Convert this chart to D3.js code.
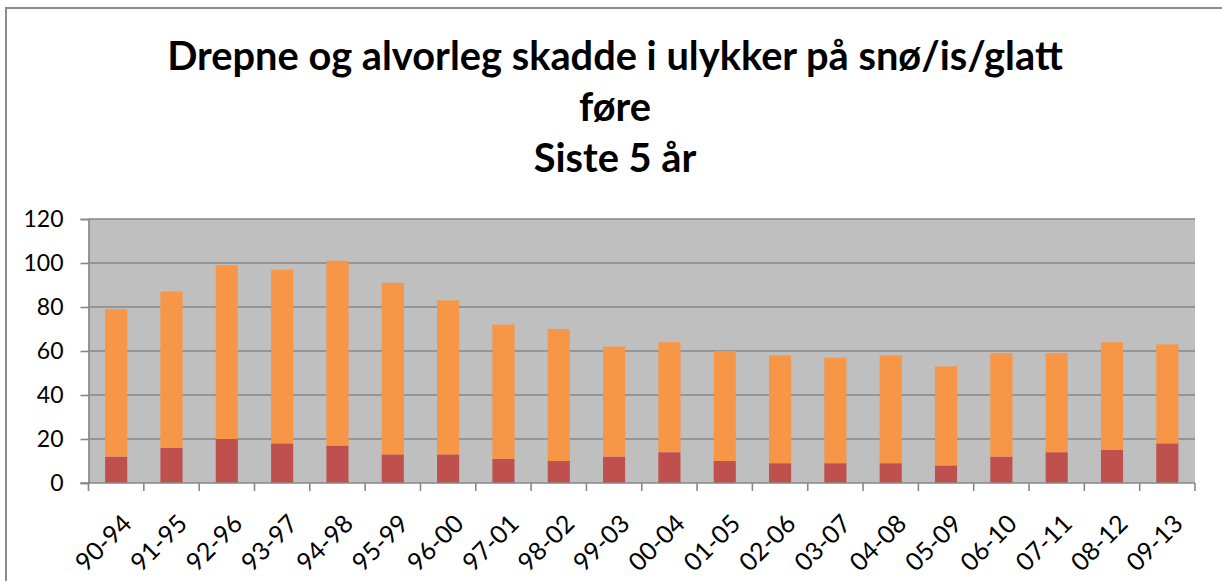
<!DOCTYPE html>
<html>
<head>
<meta charset="utf-8">
<script src="https://cdn.jsdelivr.net/npm/d3@7"></script>
<style>
  html, body { margin: 0; padding: 0; background: #fff; }
  svg { display: block; }
</style>
</head>
<body>
<div id="chart"></div>
<script>
// ─── Data ───
const periods = ["90-94", "91-95", "92-96", "93-97", "94-98", "95-99", "96-00", "97-01", "98-02", "99-03",
  "00-04", "01-05", "02-06", "03-07", "04-08", "05-09", "06-10", "07-11", "08-12", "09-13"];
const drepne = [12, 16, 20, 18, 17, 13, 13, 11, 10, 12, 14, 10, 9, 9, 9, 8, 12, 14, 15, 18];
const alvorlegSkadde = [67, 71, 79, 79, 84, 78, 70, 61, 60, 50, 50, 50, 49, 48, 49, 45, 47, 45, 49, 45];
const yTicks = [0, 20, 40, 60, 80, 100, 120];
const titleLines = ["Drepne og alvorleg skadde i ulykker på snø/is/glatt", "føre", "Siste 5 år"];

const seriesKeys = ["drepne", "alvorlegSkadde"];
const seriesColors = { drepne: "#C0504D", alvorlegSkadde: "#F79646" };

const rows = periods.map((p, i) => ({ period: p, drepne: drepne[i], alvorlegSkadde: alvorlegSkadde[i] }));

// ─── Layout ───
const W = 1222, H = 581;
const plot = { left: 88.5, right: 1195, top: 219, bottom: 483 };
const FONT = "Lato, 'Open Sans', 'Liberation Sans', sans-serif";
const GRID = "#878787";

const svg = d3.select("#chart").append("svg")
  .attr("width", W)
  .attr("height", H)
  .attr("viewBox", `0 0 ${W} ${H}`);

// outer chart frame (runs off the right/bottom of the picture)
svg.append("rect")
  .attr("x", 6).attr("y", 8)
  .attr("width", W + 20).attr("height", H + 20)
  .attr("fill", "#fff")
  .attr("stroke", "#8c8c8c")
  .attr("stroke-width", 2);

// ─── Title ───
const titleG = svg.append("g")
  .attr("font-family", FONT)
  .attr("font-weight", "bold")
  .attr("fill", "#000")
  .attr("text-anchor", "middle");

const baselines = [70, 121, 172];
const titleText = titleG.selectAll("text")
  .data(titleLines)
  .join("text")
  .attr("x", 615)
  .attr("y", (d, i) => baselines[i])
  .attr("font-size", 100)
  .text((d) => d);

// fit first line to its width in the reference
const measured = titleText.node().getComputedTextLength();
titleText.attr("font-size", Math.min(40, (100 * 896) / measured));

// ─── Scales ───
const x = d3.scaleBand()
  .domain(periods)
  .range([plot.left, plot.right])
  .padding(0);

const y = d3.scaleLinear()
  .domain([0, 120])
  .range([plot.bottom, plot.top]);

const barW = x.bandwidth() * 0.4;

// plot background
svg.append("rect")
  .attr("x", plot.left)
  .attr("y", y(120))
  .attr("width", plot.right - plot.left)
  .attr("height", y(0) - y(120))
  .attr("fill", "#BFBFBF");

// gridlines
svg.append("g")
  .selectAll("line")
  .data(yTicks.filter((t) => t > 0))
  .join("line")
  .attr("x1", plot.left)
  .attr("x2", plot.right)
  .attr("y1", (d) => y(d))
  .attr("y2", (d) => y(d))
  .attr("stroke", GRID)
  .attr("stroke-width", 1.6);

// ─── Stacked bars ───
const stack = d3.stack().keys(seriesKeys)(rows);

svg.append("g")
  .selectAll("g")
  .data(stack)
  .join("g")
  .attr("fill", (s) => seriesColors[s.key])
  .selectAll("rect")
  .data((s) => s)
  .join("rect")
  .attr("x", (d) => x(d.data.period) + (x.bandwidth() - barW) / 2)
  .attr("y", (d) => y(d[1]))
  .attr("width", barW)
  .attr("height", (d) => y(d[0]) - y(d[1]));

// ─── Y axis ───
const gY = svg.append("g")
  .attr("transform", `translate(${plot.left},0)`)
  .call(d3.axisLeft(y).tickValues(yTicks).tickSize(8).tickPadding(17).tickFormat(d3.format("d")));

gY.select(".domain").attr("stroke", GRID).attr("stroke-width", 1.6);
gY.selectAll(".tick line").attr("stroke", GRID).attr("stroke-width", 1.6);
gY.selectAll("text")
  .style("font-family", FONT)
  .style("font-size", "23px")
  .style("fill", "#000");

// ─── X axis ───
const gX = svg.append("g")
  .attr("transform", `translate(0,${plot.bottom})`);

gX.append("line")
  .attr("x1", plot.left - 8)
  .attr("x2", plot.right)
  .attr("stroke", GRID)
  .attr("stroke-width", 1.6);

// ticks sit on the category boundaries
const boundaries = periods.map((p) => x(p)).concat([x(periods[periods.length - 1]) + x.bandwidth()]);
gX.selectAll(".xtick")
  .data(boundaries)
  .join("line")
  .attr("class", "xtick")
  .attr("x1", (d) => d)
  .attr("x2", (d) => d)
  .attr("y1", 0)
  .attr("y2", 8)
  .attr("stroke", GRID)
  .attr("stroke-width", 1.6);

gX.selectAll(".xlabel")
  .data(periods)
  .join("text")
  .attr("class", "xlabel")
  .attr("transform", (d) => `translate(${x(d) + x.bandwidth() / 2 + 11},36) rotate(-45)`)
  .attr("text-anchor", "end")
  .attr("dy", "0.35em")
  .style("font-family", FONT)
  .style("font-size", "25px")
  .style("fill", "#000")
  .text((d) => d);
</script>
</body>
</html>
